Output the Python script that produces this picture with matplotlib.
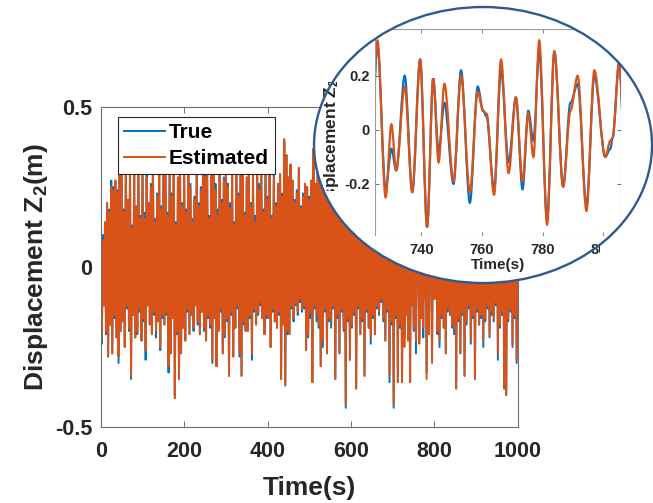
import numpy as np
import matplotlib
matplotlib.use("Agg")
import matplotlib.pyplot as plt
from matplotlib.patches import Ellipse, PathPatch
from matplotlib.path import Path
from matplotlib.transforms import Bbox

plt.rcParams["font.family"] = "Liberation Sans"
plt.rcParams["font.weight"] = "bold"
plt.rcParams["axes.labelweight"] = "bold"
plt.rcParams["axes.unicode_minus"] = False
plt.rcParams["mathtext.fontset"] = "custom"
plt.rcParams["mathtext.rm"] = "Liberation Sans:bold"
plt.rcParams["mathtext.it"] = "Liberation Sans:bold"
plt.rcParams["mathtext.bf"] = "Liberation Sans:bold"

BLUE = "#0072BD"
ORANGE = "#D95319"
INK = "#262626"
FRAME = "#6e6e6e"
RING = "#2E5A8E"

# 0 - 722.5 s: peaks at t = 0, 5, 10, ... and troughs at t = 2.5, 7.5, ...
true_peaks = [
    0.16, 0.10, 0.14, 0.20, 0.18, 0.27, 0.25, 0.27, 0.24, 0.31,
    0.30, 0.18, 0.33, 0.21, 0.31, 0.13, 0.29, 0.19, 0.34, 0.16,
    0.32, 0.17, 0.29, 0.20, 0.26, 0.33, 0.15, 0.23, 0.31, 0.19,
    0.29, 0.33, 0.17, 0.31, 0.23, 0.35, 0.14, 0.28, 0.33, 0.20,
    0.30, 0.18, 0.32, 0.26, 0.15, 0.22, 0.31, 0.20, 0.25, 0.30,
    0.29, 0.31, 0.16, 0.33, 0.30, 0.26, 0.18, 0.29, 0.21, 0.28,
    0.31, 0.26, 0.20, 0.30, 0.14, 0.33, 0.23, 0.29, 0.32, 0.17,
    0.28, 0.32, 0.20, 0.30, 0.16, 0.31, 0.26, 0.29, 0.18, 0.33,
    0.22, 0.30, 0.16, 0.29, 0.20, 0.26, 0.29, 0.23, 0.39, 0.35,
    0.28, 0.32, 0.27, 0.21, 0.24, 0.31, 0.19, 0.23, 0.26, 0.25,
    0.22, 0.27, 0.36, 0.26, 0.30, 0.28, 0.33, 0.26, 0.29, 0.31,
    0.30, 0.27, 0.32, 0.28, 0.25, 0.31, 0.27, 0.33, 0.29, 0.26,
    0.27, 0.31, 0.29, 0.25, 0.30, 0.27, 0.32, 0.28, 0.26, 0.30,
    0.28, 0.27, 0.31, 0.25, 0.29, 0.27, 0.32, 0.26, 0.30, 0.28,
    0.31, 0.27, 0.29, 0.33, 0.28,
]
true_troughs = [
    -0.24, -0.12, -0.21, -0.28, -0.18, -0.27, -0.16, -0.22, -0.30, -0.20,
    -0.17, -0.25, -0.13, -0.20, -0.35, -0.15, -0.22, -0.21, -0.14, -0.23,
    -0.17, -0.29, -0.12, -0.18, -0.21, -0.15, -0.22, -0.17, -0.26, -0.16,
    -0.18, -0.15, -0.33, -0.27, -0.16, -0.40, -0.21, -0.35, -0.27, -0.19,
    -0.23, -0.14, -0.21, -0.15, -0.20, -0.12, -0.18, -0.21, -0.14, -0.20,
    -0.23, -0.16, -0.19, -0.30, -0.16, -0.31, -0.20, -0.14, -0.27, -0.22,
    -0.17, -0.34, -0.15, -0.28, -0.19, -0.13, -0.28, -0.34, -0.18, -0.20,
    -0.20, -0.16, -0.29, -0.14, -0.18, -0.15, -0.12, -0.16, -0.21, -0.16,
    -0.16, -0.25, -0.14, -0.17, -0.19, -0.15, -0.35, -0.18, -0.37, -0.21,
    -0.21, -0.13, -0.17, -0.12, -0.15, -0.11, -0.14, -0.13, -0.26, -0.22,
    -0.16, -0.36, -0.13, -0.17, -0.19, -0.31, -0.25, -0.14, -0.27, -0.17,
    -0.19, -0.13, -0.35, -0.16, -0.27, -0.14, -0.20, -0.44, -0.17, -0.29,
    -0.19, -0.15, -0.38, -0.13, -0.21, -0.17, -0.34, -0.14, -0.19, -0.24,
    -0.16, -0.21, -0.13, -0.15, -0.11, -0.17, -0.23, -0.14, -0.36, -0.18,
    -0.44, -0.16, -0.36, -0.19, -0.36,
]
est_peaks = [
    0.15, 0.08, 0.14, 0.20, 0.17, 0.25, 0.24, 0.27, 0.23, 0.31,
    0.30, 0.17, 0.33, 0.21, 0.31, 0.12, 0.29, 0.19, 0.34, 0.15,
    0.32, 0.15, 0.28, 0.20, 0.25, 0.33, 0.14, 0.22, 0.31, 0.18,
    0.29, 0.33, 0.16, 0.30, 0.22, 0.35, 0.13, 0.28, 0.33, 0.19,
    0.30, 0.17, 0.32, 0.25, 0.14, 0.21, 0.31, 0.19, 0.24, 0.30,
    0.28, 0.31, 0.15, 0.33, 0.30, 0.24, 0.16, 0.29, 0.20, 0.27,
    0.31, 0.25, 0.18, 0.30, 0.13, 0.33, 0.22, 0.29, 0.32, 0.16,
    0.28, 0.32, 0.19, 0.30, 0.14, 0.31, 0.24, 0.29, 0.17, 0.33,
    0.21, 0.30, 0.15, 0.28, 0.19, 0.26, 0.29, 0.22, 0.40, 0.35,
    0.28, 0.32, 0.27, 0.20, 0.23, 0.31, 0.18, 0.22, 0.26, 0.25,
    0.21, 0.27, 0.37, 0.26, 0.30, 0.28, 0.33, 0.25, 0.29, 0.31,
    0.30, 0.26, 0.32, 0.28, 0.24, 0.31, 0.27, 0.33, 0.29, 0.25,
    0.27, 0.31, 0.29, 0.24, 0.30, 0.26, 0.32, 0.28, 0.25, 0.30,
    0.28, 0.26, 0.31, 0.24, 0.29, 0.27, 0.32, 0.25, 0.30, 0.27,
    0.31, 0.26, 0.29, 0.33, 0.27,
]
est_troughs = [
    -0.22, -0.12, -0.20, -0.28, -0.18, -0.27, -0.15, -0.22, -0.28, -0.20,
    -0.17, -0.25, -0.12, -0.19, -0.34, -0.15, -0.22, -0.20, -0.13, -0.23,
    -0.16, -0.26, -0.12, -0.18, -0.21, -0.14, -0.20, -0.17, -0.25, -0.15,
    -0.18, -0.14, -0.31, -0.27, -0.16, -0.41, -0.20, -0.35, -0.27, -0.19,
    -0.23, -0.13, -0.21, -0.15, -0.19, -0.12, -0.17, -0.21, -0.14, -0.19,
    -0.23, -0.15, -0.18, -0.29, -0.16, -0.31, -0.20, -0.13, -0.27, -0.21,
    -0.16, -0.34, -0.14, -0.28, -0.19, -0.12, -0.27, -0.34, -0.17, -0.20,
    -0.20, -0.15, -0.27, -0.13, -0.18, -0.14, -0.11, -0.16, -0.21, -0.15,
    -0.16, -0.25, -0.13, -0.17, -0.19, -0.14, -0.35, -0.18, -0.37, -0.20,
    -0.21, -0.12, -0.16, -0.11, -0.14, -0.10, -0.13, -0.12, -0.26, -0.21,
    -0.14, -0.36, -0.12, -0.15, -0.18, -0.31, -0.23, -0.13, -0.27, -0.16,
    -0.17, -0.12, -0.35, -0.15, -0.27, -0.13, -0.19, -0.43, -0.16, -0.29,
    -0.18, -0.14, -0.38, -0.12, -0.21, -0.16, -0.34, -0.13, -0.19, -0.22,
    -0.15, -0.21, -0.12, -0.14, -0.10, -0.16, -0.23, -0.13, -0.34, -0.17,
    -0.43, -0.15, -0.36, -0.18, -0.36,
]

# Stretch shown in the zoom window (725 - 806 s)
t_zoom = [
    725.5, 728.2, 730.1, 731.7, 734.5, 737.0, 739.6, 741.9, 743.9, 745.7,
    747.6, 750.6, 753.1, 756.0, 758.6, 760.4, 761.5, 764.0, 766.3, 768.8,
    771.2, 773.4, 775.3, 777.0, 778.9, 781.5, 783.9, 786.8, 789.2, 791.6,
    794.5, 797.1, 800.7, 802.4, 803.1, 805.3,
]
true_zoom = [
    0.31, -0.22, -0.07, -0.15, 0.20, -0.23, 0.26, -0.36, 0.19, -0.08,
    0.10, -0.20, 0.22, -0.27, 0.16, 0.07, 0.05, -0.22, 0.22, -0.12,
    0.12, -0.22, 0.07, -0.04, 0.29, -0.33, 0.29, -0.21, 0.10, 0.17,
    -0.28, 0.20, -0.10, -0.07, -0.03, 0.25,
]
est_zoom = [
    0.33, -0.25, 0.02, -0.15, 0.16, -0.23, 0.26, -0.36, 0.19, -0.12,
    0.17, -0.19, 0.20, -0.23, 0.14, 0.07, 0.06, -0.24, 0.26, -0.16,
    0.12, -0.19, 0.06, -0.10, 0.33, -0.35, 0.29, -0.21, 0.07, 0.20,
    -0.30, 0.22, -0.10, -0.04, -0.03, 0.25,
]

# 807.5 - 1000 s, one extremum every 2.5 s (starting with a trough)
true_late = [
    -0.21, 0.28, -0.25, 0.30, -0.16, 0.27, -0.19, 0.31, -0.27, 0.25,
    -0.14, 0.29, -0.15, 0.27, -0.19, 0.32, -0.21, 0.26, -0.38, 0.30,
    -0.17, 0.28, -0.27, 0.26, -0.15, 0.31, -0.34, 0.27, -0.18, 0.29,
    -0.13, 0.26, -0.24, 0.30, -0.16, 0.28, -0.35, 0.26, -0.14, 0.29,
    -0.18, 0.27, -0.16, 0.31, -0.25, 0.26, -0.17, 0.28, -0.13, 0.30,
    -0.22, 0.25, -0.15, 0.29, -0.17, 0.27, -0.12, 0.31, -0.29, 0.26,
    -0.19, 0.28, -0.15, 0.30, -0.38, 0.27, -0.40, 0.25, -0.17, 0.29,
    -0.14, 0.26, -0.25, 0.28, -0.16, 0.27, -0.30, 0.24,
]
est_late = [
    -0.20, 0.28, -0.23, 0.30, -0.15, 0.26, -0.19, 0.31, -0.27, 0.24,
    -0.13, 0.29, -0.145, 0.27, -0.18, 0.32, -0.19, 0.26, -0.38, 0.30,
    -0.16, 0.28, -0.27, 0.25, -0.14, 0.31, -0.34, 0.27, -0.17, 0.29,
    -0.12, 0.26, -0.23, 0.30, -0.15, 0.28, -0.35, 0.25, -0.13, 0.29,
    -0.18, 0.27, -0.15, 0.31, -0.23, 0.26, -0.16, 0.28, -0.12, 0.30,
    -0.21, 0.25, -0.14, 0.29, -0.16, 0.27, -0.11, 0.31, -0.27, 0.26,
    -0.18, 0.28, -0.14, 0.30, -0.38, 0.27, -0.40, 0.25, -0.16, 0.29,
    -0.13, 0.26, -0.24, 0.28, -0.15, 0.27, -0.29, 0.24,
]

main_xticks = [0, 200, 400, 600, 800, 1000]
main_yticks = [-0.5, 0, 0.5]
zoom_xticks = [740, 760, 780, 800]
zoom_yticks = [-0.2, 0, 0.2]


def interleave(peaks, troughs):
    return np.column_stack([peaks, troughs]).ravel()


t_early = np.arange(0, 725, 2.5)
t_late = np.arange(807.5, 1001, 2.5)
time_s = np.concatenate([t_early, t_zoom, t_late])
z2_true = np.concatenate([interleave(true_peaks, true_troughs), true_zoom, true_late])
z2_est = np.concatenate([interleave(est_peaks, est_troughs), est_zoom, est_late])


def smooth_path(t, z):
    # cubic segments with flat tangents at each listed extremum
    verts = [(t[0], z[0])]
    codes = [Path.MOVETO]
    for i in range(len(t) - 1):
        dt = (t[i + 1] - t[i]) / 3.0
        verts += [(t[i] + dt, z[i]), (t[i + 1] - dt, z[i + 1]), (t[i + 1], z[i + 1])]
        codes += [Path.CURVE4] * 3
    return Path(verts, codes)


W, H = 653, 503
fig = plt.figure(figsize=(W / 100, H / 100), dpi=100)

# main plot
ax = fig.add_axes([0.1544, 0.1511, 0.6384, 0.6362])
ax.plot(time_s, z2_true, color=BLUE, lw=1.4, label="True")
ax.plot(time_s, z2_est, color=ORANGE, lw=1.4, label="Estimated")
ax.set_xlim(0, 1000)
ax.set_ylim(-0.5, 0.5)
ax.set_xticks(main_xticks)
ax.set_yticks(main_yticks)
ax.set_yticklabels(["-0.5", "0", "0.5"])
ax.tick_params(direction="in", top=True, right=True, length=4, width=0.7,
               color=FRAME, labelsize=15.5, labelcolor=INK)
ax.tick_params(axis="x", pad=10)
ax.tick_params(axis="y", pad=6)
for s in ax.spines.values():
    s.set_color(FRAME)
    s.set_linewidth(0.8)
ax.set_xlabel("Time(s)", fontsize=19, fontweight="bold", color=INK, labelpad=10)
ax.set_ylabel(r"Displacement Z$_2$(m)", fontsize=19, fontweight="bold",
              color=INK, labelpad=4)

leg = ax.legend(loc="upper left", bbox_to_anchor=(0.041, 0.969), fontsize=15,
                frameon=True, fancybox=False, edgecolor=INK, framealpha=1,
                handlelength=1.95, handletextpad=0.2, borderpad=0.3,
                labelspacing=0.32, borderaxespad=0)
leg.get_frame().set_linewidth(0.8)
for txt in leg.get_texts():
    txt.set_color("black")

# oval zoom window: white fill, inset axes, then the blue rim on top
center = (0.7397, 0.7117)
oval = Ellipse(center, 0.5176, 0.5487, transform=fig.transFigure,
               facecolor="white", edgecolor="none", zorder=1)
fig.add_artist(oval)
rim = Ellipse(center, 0.5176, 0.5487, transform=fig.transFigure,
              facecolor="none", edgecolor=RING, lw=1.7, zorder=3)
fig.add_artist(rim)

inset = fig.add_axes([0.5743, 0.5308, 0.3767, 0.4115], zorder=2)
inset.patch.set_visible(False)
inset.add_patch(PathPatch(smooth_path(time_s, z2_true), fill=False,
                          edgecolor=BLUE, lw=1.6))
inset.add_patch(PathPatch(smooth_path(time_s, z2_est), fill=False,
                          edgecolor=ORANGE, lw=1.6))
inset.set_xlim(724.7, 805.9)
inset.set_ylim(-0.393, 0.373)
inset.set_xticks(zoom_xticks)
inset.set_yticks(zoom_yticks)
inset.set_yticklabels(["-0.2", "0", "0.2"])
inset.tick_params(direction="in", top=True, right=True, length=3, width=0.6,
                  color=FRAME, labelsize=10.5, labelcolor=INK)
inset.tick_params(axis="x", pad=5)
inset.tick_params(axis="y", pad=4)
for s in inset.spines.values():
    s.set_color("#9a9a9a")
    s.set_linewidth(0.8)
inset.set_xlabel("Time(s)", fontsize=11, fontweight="bold", color=INK, labelpad=1)
inset.set_ylabel(r"Displacement Z$_2$(m)", fontsize=12.5, fontweight="bold",
                 color=INK, labelpad=2)

# curves, frame and tick marks of the inset are cut off at the oval
clipped = list(inset.patches) + list(inset.spines.values())
for axis in (inset.xaxis, inset.yaxis):
    for tick in axis.get_major_ticks():
        clipped += [tick.tick1line, tick.tick2line]
for item in clipped:
    item.set_clip_on(True)
    item.set_clip_path(oval)

# the two texts that run past the oval get a pixel clip box
label_800 = inset.xaxis.get_major_ticks()[3].label1
label_800.set_clip_on(True)
label_800.set_clip_box(Bbox.from_extents(0, 0, 600, H))
inset.yaxis.label.set_clip_on(True)
inset.yaxis.label.set_clip_box(Bbox.from_extents(0, H - 191, W, H - 82))

fig.savefig("out.png", dpi=100)
